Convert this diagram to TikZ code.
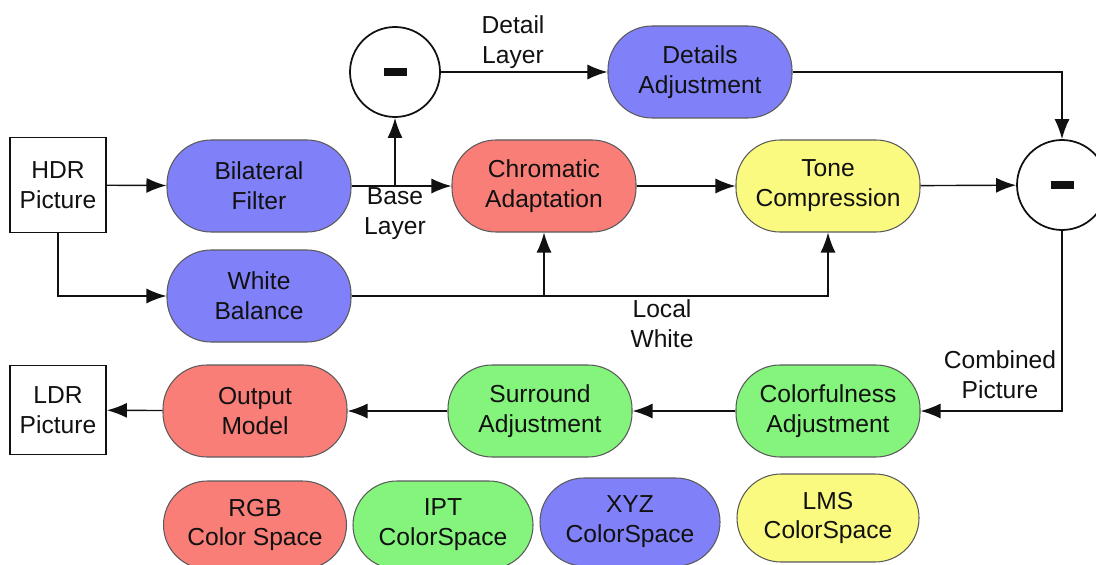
\documentclass[tikz,border=0pt]{standalone}
\usepackage{fontspec}
\setmainfont{Liberation Sans}
\usetikzlibrary{arrows.meta}
\definecolor{ink}{HTML}{111111}
\definecolor{edge}{HTML}{5A5A5A}
\definecolor{pblue}{HTML}{8080F8}
\definecolor{pred}{HTML}{FA7E78}
\definecolor{pgreen}{HTML}{84F47C}
\definecolor{pyellow}{HTML}{FAFA80}

\begin{document}
\begin{tikzpicture}[text=ink,>={Latex[length=0.4cm,width=0.3cm]},
  every node/.style={font=\fontsize{14}{17}\selectfont,align=center},
  stage/.style={draw=edge,line width=0.6pt,rounded corners=0.88cm,
    minimum width=3.68cm,minimum height=1.84cm,inner sep=0pt},
  picbox/.style={draw=ink,line width=1pt,minimum width=1.92cm,
    minimum height=1.9cm,inner sep=0pt},
  subtract/.style={draw=ink,line width=1pt,circle,minimum size=1.8cm,
    inner sep=0pt,fill=white},
  flow/.style={line width=0.8pt,draw=ink}]
  \useasboundingbox (0,0) rectangle (21.92,11.28);

  % inputs and outputs
  \node[picbox] (hdr) at (1.16,7.58) {HDR\\Picture};
  \node[picbox,minimum height=1.78cm] (ldr) at (1.16,3.08) {LDR\\Picture};

  % upper chain
  \node[stage,fill=pblue] (bil) at (5.18,7.56) {Bilateral\\Filter};
  \node[stage,fill=pblue] (wb) at (5.18,5.36) {White\\Balance};
  \node[subtract] (sub1) at (7.9,9.84) {\rule{0.46cm}{0.15cm}};
  \node[stage,fill=pblue] (det) at (14.0,9.84) {Details\\Adjustment};
  \node[stage,fill=pred] (chr) at (10.88,7.56) {Chromatic\\Adaptation};
  \node[stage,fill=pyellow] (tone) at (16.56,7.56) {Tone\\Compression};
  \node[subtract] (sub2) at (21.24,7.58) {\rule{0.46cm}{0.15cm}};

  % lower chain
  \node[stage,fill=pgreen] (col) at (16.56,3.06) {Colorfulness\\Adjustment};
  \node[stage,fill=pgreen] (sur) at (10.8,3.06) {Surround\\Adjustment};
  \node[stage,fill=pred] (out) at (5.1,3.06) {Output\\Model};

  % colour spaces
  \node[stage,fill=pred,minimum width=3.66cm,minimum height=1.76cm] (rgb) at (5.1,0.78) {RGB\\Color Space};
  \node[stage,fill=pgreen,minimum width=3.6cm,minimum height=1.76cm] (ipt) at (8.86,0.78) {IPT\\ColorSpace};
  \node[stage,fill=pblue,minimum width=3.6cm,minimum height=1.76cm] (xyz) at (12.6,0.84) {XYZ\\ColorSpace};
  \node[stage,fill=pyellow,minimum width=3.64cm,minimum height=1.76cm] (lms) at (16.56,0.92) {LMS\\ColorSpace};

  % connectors
  \draw[flow,->] (hdr) -- (bil);
  \draw[flow,->] (hdr.south) |- (wb.west);
  \draw[flow,->] (bil) -- (chr);
  \draw[flow,->] (bil.east -| sub1) -- (sub1.south);
  \draw[flow,->] (sub1) -- (det);
  \draw[flow,->] (det.east) -| (sub2.north);
  \draw[flow,->] (chr) -- (tone);
  \draw[flow,->] (tone) -- (sub2);
  \draw[flow,->] (wb.east) -| (tone.south);
  \draw[flow,->] (wb.east -| chr) -- (chr.south);
  \draw[flow,->] (sub2.south) |- (col.east);
  \draw[flow,->] (col) -- (sur);
  \draw[flow,->] (sur) -- (out);
  \draw[flow,->] (out) -- (ldr);

  % labels
  \node (lbldetail) at (10.26,10.44) {Detail\\Layer};
  \node (lblbase) at (7.9,7.0) {Base\\Layer};
  \node (lbllocal) at (13.24,4.8) {Local\\White};
  \node (lblcomb) at (20.0,3.78) {Combined\\Picture};
\end{tikzpicture}
\end{document}
